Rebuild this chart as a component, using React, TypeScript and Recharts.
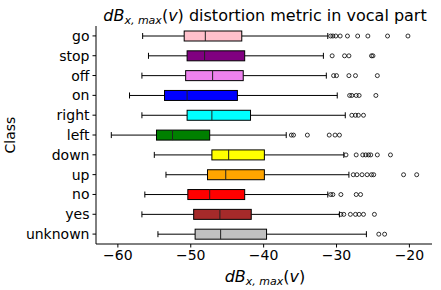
import React from "react";
import { ComposedChart, Bar, XAxis, YAxis } from "recharts";

const categories = ["go", "stop", "off", "on", "right", "left", "down", "up", "no", "yes", "unknown"];
const boxColors = ["#ffc0cb", "#800080", "#ee82ee", "#0000ff", "#00ffff", "#008000", "#ffff00", "#ffa500", "#ff0000", "#a52a2a", "#c0c0c0"];

const whiskerLow = [-56.6, -55.8, -56.7, -58.4, -56.7, -60.9, -55.0, -53.4, -56.3, -56.7, -54.5];
const q1 = [-50.9, -50.5, -50.7, -53.6, -50.5, -54.7, -47.1, -47.7, -50.4, -49.6, -49.4];
const medians = [-48.0, -48.1, -47.0, -50.5, -47.1, -52.5, -44.8, -45.2, -47.4, -46.0, -45.9];
const q3 = [-43.0, -42.6, -42.8, -43.6, -41.8, -47.4, -39.9, -39.9, -42.6, -41.7, -39.6];
const whiskerHigh = [-31.2, -31.8, -31.4, -29.9, -28.8, -36.9, -29.0, -28.3, -31.2, -29.6, -25.9];
const outliers = [
  [-30.8, -30.5, -30.1, -29.5, -28.5, -27.1, -25.7, -23.0, -20.2],
  [-30.6, -28.9, -28.3, -25.2, -25.0],
  [-30.4, -30.0, -28.3, -27.4, -24.4],
  [-28.2, -27.9, -27.3, -26.9, -24.6],
  [-27.9, -27.4, -27.0, -26.3],
  [-36.2, -35.9, -34.0, -31.0, -30.2, -29.6],
  [-28.7, -27.3, -26.4, -26.0, -25.6, -25.3, -24.4, -22.6],
  [-27.7, -27.2, -26.5, -25.8, -25.2, -24.9, -20.8, -19.0],
  [-30.8, -30.5, -29.4, -27.3, -26.7],
  [-29.4, -29.0, -28.1, -27.4, -26.9, -26.3, -24.8],
  [-24.2, -23.4],
];
const xTicks = [-60, -50, -40, -30, -20];

const FONT = "DejaVu Sans";

const data = categories.map((name, i) => ({
  name,
  color: boxColors[i],
  low: whiskerLow[i],
  q1: q1[i],
  median: medians[i],
  q3: q3[i],
  high: whiskerHigh[i],
  outliers: outliers[i],
  // the range bar spans from the lowest to the highest drawn value
  span: [whiskerLow[i], Math.max(whiskerHigh[i], ...outliers[i])],
}));

// draws one box plot, mapping values through the bar's own pixel extent
const BoxShape = (props: any) => {
  const { x, y, width, height, payload } = props;
  const [lo, hi] = payload.span;
  const left = Math.min(x, x + width);
  const w = Math.abs(width);
  const px = (v: number) => left + ((v - lo) / (hi - lo)) * w;
  const cy = y + height / 2;
  const half = 5;
  const cap = 3;
  return (
    <g>
      <line x1={px(payload.low)} x2={px(payload.q1)} y1={cy} y2={cy} stroke="#000" strokeWidth={1} />
      <line x1={px(payload.q3)} x2={px(payload.high)} y1={cy} y2={cy} stroke="#000" strokeWidth={1} />
      <line x1={px(payload.low)} x2={px(payload.low)} y1={cy - cap} y2={cy + cap} stroke="#000" strokeWidth={1} />
      <line x1={px(payload.high)} x2={px(payload.high)} y1={cy - cap} y2={cy + cap} stroke="#000" strokeWidth={1} />
      <rect
        x={px(payload.q1)}
        y={cy - half}
        width={px(payload.q3) - px(payload.q1)}
        height={half * 2}
        fill={payload.color}
        stroke="#000"
        strokeWidth={1}
      />
      <line x1={px(payload.median)} x2={px(payload.median)} y1={cy - half} y2={cy + half} stroke="#222" strokeWidth={1} />
      {payload.outliers.map((v: number, k: number) => (
        <circle key={k} cx={px(v)} cy={cy} r={2} fill="none" stroke="#000" strokeWidth={0.8} />
      ))}
    </g>
  );
};

const fmt = (v: number) => String(v).replace("-", "\u2212");

export default function App() {
  return (
    <div style={{ position: "absolute", left: 0, top: 0, width: 441, height: 290, background: "#fff", fontFamily: FONT }}>
      <ComposedChart
        width={441}
        height={290}
        data={data}
        layout="vertical"
        margin={{ top: 26, right: 9, bottom: 0, left: 0 }}
        barSize={10}
      >
        <XAxis
          type="number"
          domain={[-63, -16.9]}
          allowDataOverflow
          ticks={xTicks}
          tickFormatter={fmt}
          height={46}
          tickSize={3.5}
          tickMargin={3}
          stroke="#000"
          tick={{ fill: "#000", fontSize: 14, fontFamily: FONT }}
        />
        <XAxis xAxisId="top" orientation="top" type="number" domain={[-63, -16.9]} height={0} tick={false} tickLine={false} stroke="#000" />
        <YAxis
          type="category"
          dataKey="name"
          width={96}
          tickSize={3.5}
          tickMargin={3}
          stroke="#000"
          tick={{ fill: "#000", fontSize: 14, fontFamily: FONT }}
          interval={0}
        />
        <YAxis yAxisId="right" orientation="right" type="category" dataKey="name" width={0} tick={false} tickLine={false} stroke="#000" />
        <Bar dataKey="span" shape={BoxShape} isAnimationActive={false} />
      </ComposedChart>
      <svg width={441} height={290} style={{ position: "absolute", left: 0, top: 0, pointerEvents: "none" }} fontFamily={FONT}>
        <text x={265} y={21} textAnchor="middle" fontSize={16} fill="#000">
          <tspan fontStyle="italic">dB</tspan>
          <tspan fontStyle="italic" fontSize={11} dy={3}>x, max</tspan>
          <tspan dy={-3}>(</tspan>
          <tspan fontStyle="italic">v</tspan>
          <tspan>) distortion metric in vocal part</tspan>
        </text>
        <text x={265} y={282} textAnchor="middle" fontSize={16} fill="#000">
          <tspan fontStyle="italic">dB</tspan>
          <tspan fontStyle="italic" fontSize={11} dy={3}>x, max</tspan>
          <tspan dy={-3}>(</tspan>
          <tspan fontStyle="italic">v</tspan>
          <tspan>)</tspan>
        </text>
        <text x={15} y={135} textAnchor="middle" fontSize={14} fill="#000" transform="rotate(-90 15 135)">
          Class
        </text>
      </svg>
    </div>
  );
}
